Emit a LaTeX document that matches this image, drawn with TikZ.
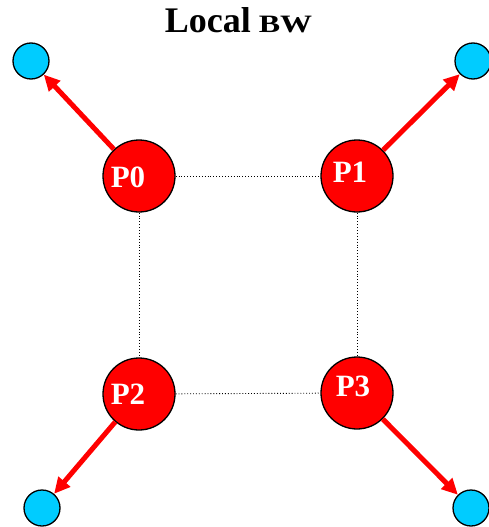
\documentclass[tikz,border=0pt]{standalone}
\usepackage{fontspec}
\usepackage{graphicx}
\setmainfont{Liberation Serif}
\usetikzlibrary{arrows.meta}
\definecolor{pred}{RGB}{255,0,0}
\definecolor{pblue}{RGB}{0,204,255}
\begin{document}
\begin{tikzpicture}[x=1pt,y=-1pt,
  proc/.style={circle,draw=black,line width=1.3pt,fill=pred,minimum size=72pt,inner sep=0pt},
  mem/.style={circle,draw=black,line width=1.3pt,fill=pblue,minimum size=36pt,inner sep=0pt},
  plabel/.style={text=white,font=\fontsize{31}{31}\selectfont\bfseries,inner sep=0pt},
  link/.style={dotted,line width=0.9pt,black},
  bw/.style={draw=pred,line width=5pt,-{Triangle[length=16pt,width=15pt]}}]
\useasboundingbox (0,0) rectangle (489,527);
\node[font=\bfseries,inner sep=0pt,anchor=base] (title) at (238.5,33) {\fontsize{36}{36}\selectfont Local\hspace{8pt}\fontsize{25}{25}\selectfont\scalebox{1.28}[1]{BW}};
\node[proc] (p0) at (139,176) {};
\node[proc] (p1) at (357,176) {};
\node[proc] (p2) at (139,394) {};
\node[proc] (p3) at (357,393) {};
\node[plabel] (l0) at (128,177) {P0};
\node[plabel] (l1) at (350,172) {P1};
\node[plabel] (l2) at (128,394) {P2};
\node[plabel] (l3) at (353,386) {P3};
\node[mem] (m0) at (31,61) {};
\node[mem] (m1) at (473,61) {};
\node[mem] (m2) at (42,508) {};
\node[mem] (m3) at (471,508) {};
\draw[link] (p0) -- (p1);
\draw[link] (p2) -- (p3);
\draw[link] (p0) -- (p2);
\draw[link] (p1) -- (p3);
\draw[bw] (p0) -- (m0);
\draw[bw] (p1) -- (m1);
\draw[bw] (p2) -- (m2);
\draw[bw] (p3) -- (m3);
\end{tikzpicture}
\end{document}
